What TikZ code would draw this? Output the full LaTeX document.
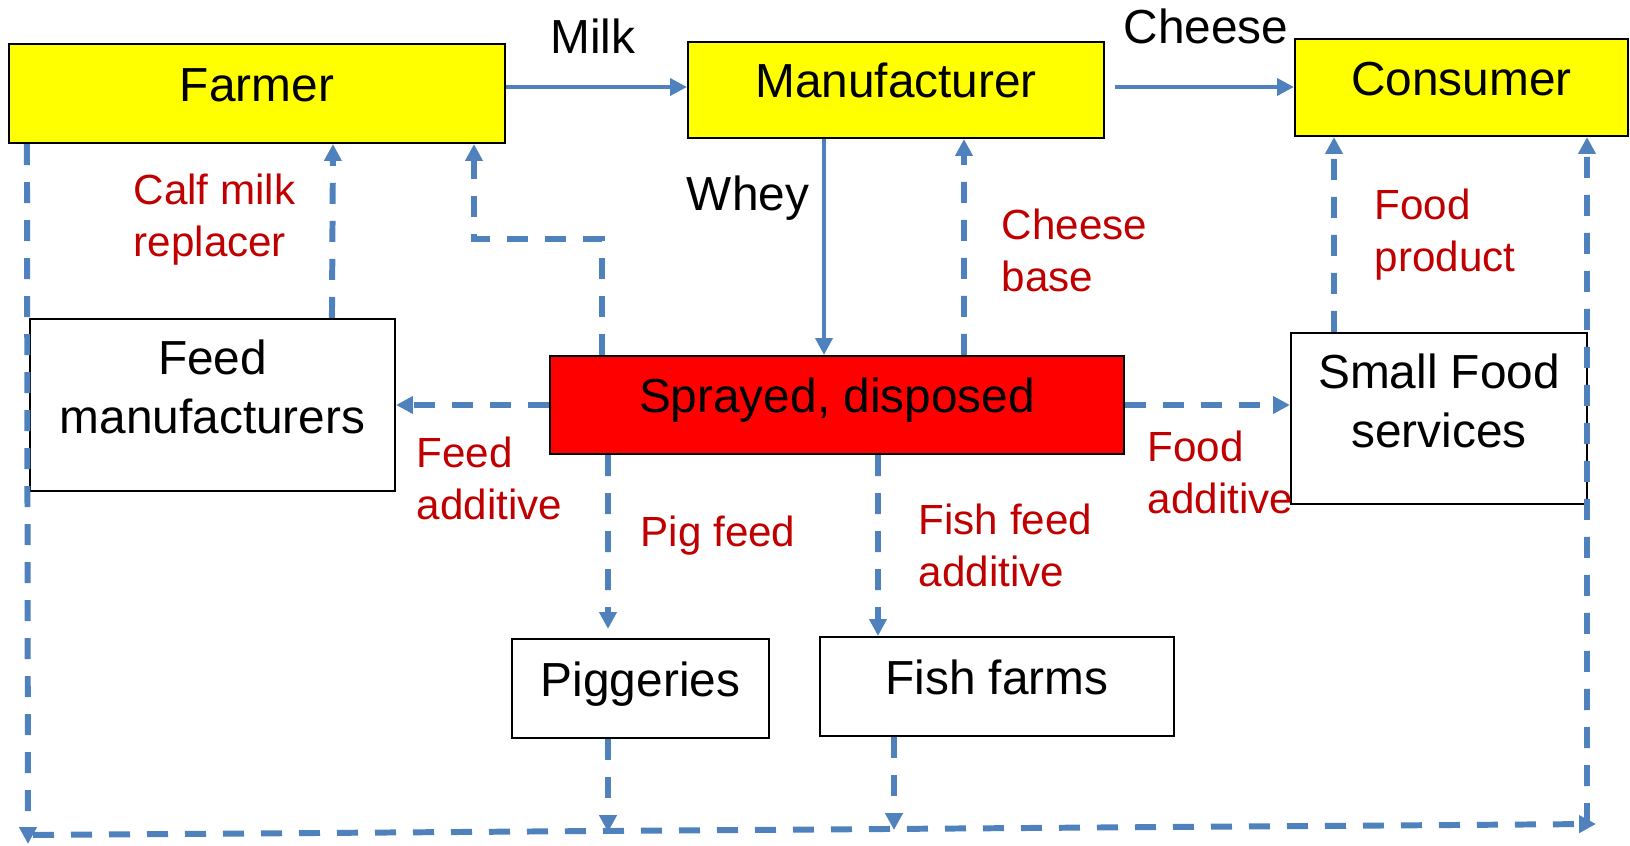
\documentclass[tikz,border=0pt]{standalone}
\usepackage{fontspec}
\setmainfont{Liberation Sans}
\usepackage{xcolor}
\usetikzlibrary{arrows.meta,positioning}
\definecolor{flowblue}{HTML}{4F81BD}
\definecolor{labelred}{HTML}{C00000}
\definecolor{boxyellow}{HTML}{FFFF00}
\definecolor{boxred}{HTML}{FF0000}

\begin{document}
\begin{tikzpicture}[
    >={Triangle[length=4.8pt,width=4.8pt]},
    box/.style={draw=black, line width=0.6pt, rectangle, inner sep=0pt, align=center,
      font=\fontsize{13.6}{16.8}\selectfont, text height=0.34cm, text depth=0.18cm},
    twoline/.style={text height=0.93cm, text depth=0.35cm},
    flow/.style={->, line width=1.1pt, flowblue},
    waste/.style={->, line width=1.7pt, flowblue, dash pattern=on 0.21cm off 0.17cm},
    flowtext/.style={font=\fontsize{13.6}{16.8}\selectfont},
    redtext/.style={labelred, align=left, anchor=west, inner xsep=0pt, font=\fontsize{12}{14.8}\selectfont}
  ]
  \useasboundingbox (0,0) rectangle (16.30,-8.46);

  % Top row: the main chain
  \node[box, fill=boxyellow, minimum width=4.96cm, minimum height=0.99cm] (farmer) at (2.57,-0.935) {Farmer};
  \node[box, fill=boxyellow, minimum width=4.16cm, minimum height=0.96cm] (manufacturer) at (8.96,-0.90) {Manufacturer};
  \node[box, fill=boxyellow, minimum width=3.33cm, minimum height=0.97cm] (consumer) at (14.615,-0.875) {Consumer};

  % Middle row
  \node[box, twoline, fill=white, minimum width=3.65cm, minimum height=1.72cm] (feedman) at (2.125,-4.05) {Feed\\manufacturers};
  \node[box, fill=boxred, minimum width=5.74cm, minimum height=0.98cm] (sprayed) at (8.37,-4.05) {Sprayed, disposed};
  \node[box, twoline, fill=white, minimum width=2.96cm, minimum height=1.71cm] (smallfood) at (14.39,-4.185) {Small Food\\services};

  % Bottom row
  \node[box, fill=white, minimum width=2.57cm, minimum height=0.99cm] (piggeries) at (6.405,-6.885) {Piggeries};
  \node[box, fill=white, minimum width=3.54cm, minimum height=0.99cm] (fishfarms) at (9.97,-6.865) {Fish farms};

  % Ends of the return line along the bottom
  \coordinate (wasteL) at (0.33,-8.35);
  \coordinate (wasteR) at (15.96,-8.24);
  \coordinate (wasteUp) at (15.87,-8.24);

  % Labels
  \node[flowtext] (milklbl) at (5.93,-0.36) {Milk};
  \node[flowtext] (cheeselbl) at (12.06,-0.26) {Cheese};
  \node[flowtext] (wheylbl) at (7.48,-1.98) {Whey};
  \node[redtext] (calflbl) at (1.33,-2.20) {Calf milk\\replacer};
  \node[redtext] (baselbl) at (10.01,-2.50) {Cheese\\base};
  \node[redtext] (productlbl) at (13.74,-2.35) {Food\\product};
  \node[redtext] (feedaddlbl) at (4.16,-4.78) {Feed\\additive};
  \node[redtext] (foodaddlbl) at (11.47,-4.72) {Food\\additive};
  \node[redtext] (piglbl) at (6.40,-5.36) {Pig feed};
  \node[redtext] (fishlbl) at (9.18,-5.45) {Fish feed\\additive};

  % Solid flows
  \draw[flow] ([yshift=0.065cm]farmer.east) -- ([yshift=0.03cm]manufacturer.west);
  \draw[flow] ([xshift=0.1cm,yshift=0.03cm]manufacturer.east) -- ([yshift=0.005cm]consumer.west);
  \draw[flow] ([xshift=-0.72cm]manufacturer.south) -- ([xshift=-0.13cm]sprayed.north);

  % Dashed by-product flows
  \draw[waste] ([xshift=1.27cm]sprayed.north) -- ([xshift=0.68cm]manufacturer.south);
  \draw[waste] ([xshift=0.53cm]sprayed.north west) -- ++(0,1.16) -| ([xshift=2.17cm]farmer.south);
  \draw[waste] ([xshift=3.03cm]feedman.north west) -- ([xshift=0.76cm]farmer.south);
  \draw[waste] (sprayed.west) -- (feedman.east);
  \draw[waste] (sprayed.east) -- (sprayed.east -| smallfood.west);
  \draw[waste] ([xshift=-1.05cm]smallfood.north) -- ([xshift=-1.275cm]consumer.south);
  \draw[waste] ([xshift=-2.29cm]sprayed.south) -- ([xshift=-0.325cm,yshift=0.09cm]piggeries.north);
  \draw[waste] ([xshift=0.41cm]sprayed.south) -- ([xshift=-1.19cm]fishfarms.north);

  % Return line along the bottom
  \draw[waste] ([xshift=0.19cm]farmer.south west) -- ([xshift=-0.05cm,yshift=-0.09cm]wasteL);
  \draw[waste] ([xshift=-0.325cm]piggeries.south) -- ++(0,-0.93);
  \draw[waste] ([xshift=-1.03cm]fishfarms.south) -- ++(0,-0.93);
  \draw[waste] (wasteL) -- (wasteR);
  \draw[waste] (wasteUp) -- ([xshift=1.255cm]consumer.south);
\end{tikzpicture}
\end{document}
